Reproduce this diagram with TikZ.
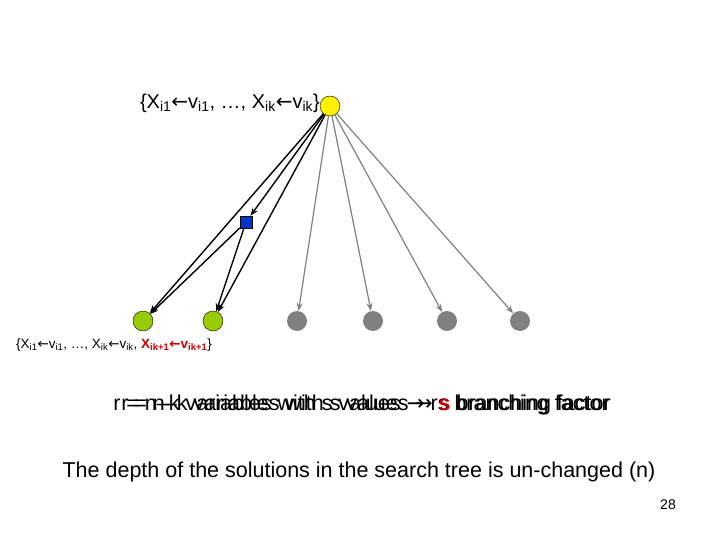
\documentclass[tikz,border=0pt]{standalone}
\usepackage{fontspec}
\setmainfont{Liberation Sans}
\newfontfamily\symfont{DejaVu Sans}
\usetikzlibrary{arrows.meta}

\newcommand{\getsto}{{\symfont\char"2190}}
\newcommand{\impl}{{\symfont\char"2192}}
\definecolor{leafgreen}{RGB}{153,204,0}
\definecolor{choiceblue}{RGB}{0,51,204}
\definecolor{deadgray}{RGB}{128,128,128}
\definecolor{newred}{RGB}{204,0,0}

\begin{document}
\begin{tikzpicture}[
  x=1pt, y=-1pt,
  every node/.style={font=\fontsize{20}{24}\selectfont},
  big/.style={font=\fontsize{21.5}{26}\selectfont},
  rootnode/.style={circle, draw, fill=yellow, minimum size=20pt, inner sep=0pt},
  leaf/.style={circle, draw, fill=leafgreen, minimum size=20pt, inner sep=0pt},
  deadleaf/.style={circle, fill=deadgray, minimum size=20pt, inner sep=0pt},
  choice/.style={draw, fill=choiceblue, minimum size=12pt, inner sep=0pt},
  arrow/.style={-{Stealth[length=8pt,width=6pt]}},
  flow/.style={arrow, black, line width=1.4pt},
  grayflow/.style={arrow, deadgray, line width=1.2pt},
]
\useasboundingbox (0,0) rectangle (720,540);

% ---- tree ------------------------------------------------------------
\node[rootnode] (root) at (330,106) {};
\node[choice]   (pick) at (246,222) {};

\node[leaf] (sol1) at (143,321) {};
\node[leaf] (sol2) at (213,321) {};

\node[deadleaf] (dead1) at (297,321) {};
\node[deadleaf] (dead2) at (373,321) {};
\node[deadleaf] (dead3) at (447,321) {};
\node[deadleaf] (dead4) at (520,321) {};

% ---- labels ----------------------------------------------------------
\node[anchor=east, inner sep=1pt] (rootlbl) at (321,103)
  {\{X\textsubscript{i1}\getsto v\textsubscript{i1}, \dots, X\textsubscript{ik}\getsto v\textsubscript{ik}\}};
\node[anchor=west, inner sep=0pt, font=\fontsize{13.5}{16}\selectfont] (sollbl) at (16,345)
  {\{X\textsubscript{i1}\getsto v\textsubscript{i1}, \dots, X\textsubscript{ik}\getsto v\textsubscript{ik},
   \textcolor{newred}{\textbf{X\textsubscript{ik+1}\getsto v\textsubscript{ik+1}}}\}};

\node[big] (ratioA) at (361,405) {r = n--k variables with s values \impl\ rs branching factor};
\node[big] (ratioB) at (366,405) {r = n--k variables with s values \impl\ \textcolor{newred}{\textbf{s}} branching factor};

\node[big] (depth) at (359,472) {The depth of the solutions in the search tree is un-changed (n)};
\node[font=\fontsize{14}{16}\selectfont] (pageno) at (668,505) {28};

% ---- black edges -----------------------------------------------------
\draw[flow] (root) -- (pick);
\draw[flow] (root) -- (sol1);
\draw[flow] (root) -- (sol2);
\draw[flow] (pick) -- (sol1);
\draw[flow] (pick) -- (sol2);

% ---- gray edges ------------------------------------------------------
\foreach \d in {dead1,dead2,dead3,dead4}
  \draw[grayflow] (root) -- (\d);

\end{tikzpicture}
\end{document}
